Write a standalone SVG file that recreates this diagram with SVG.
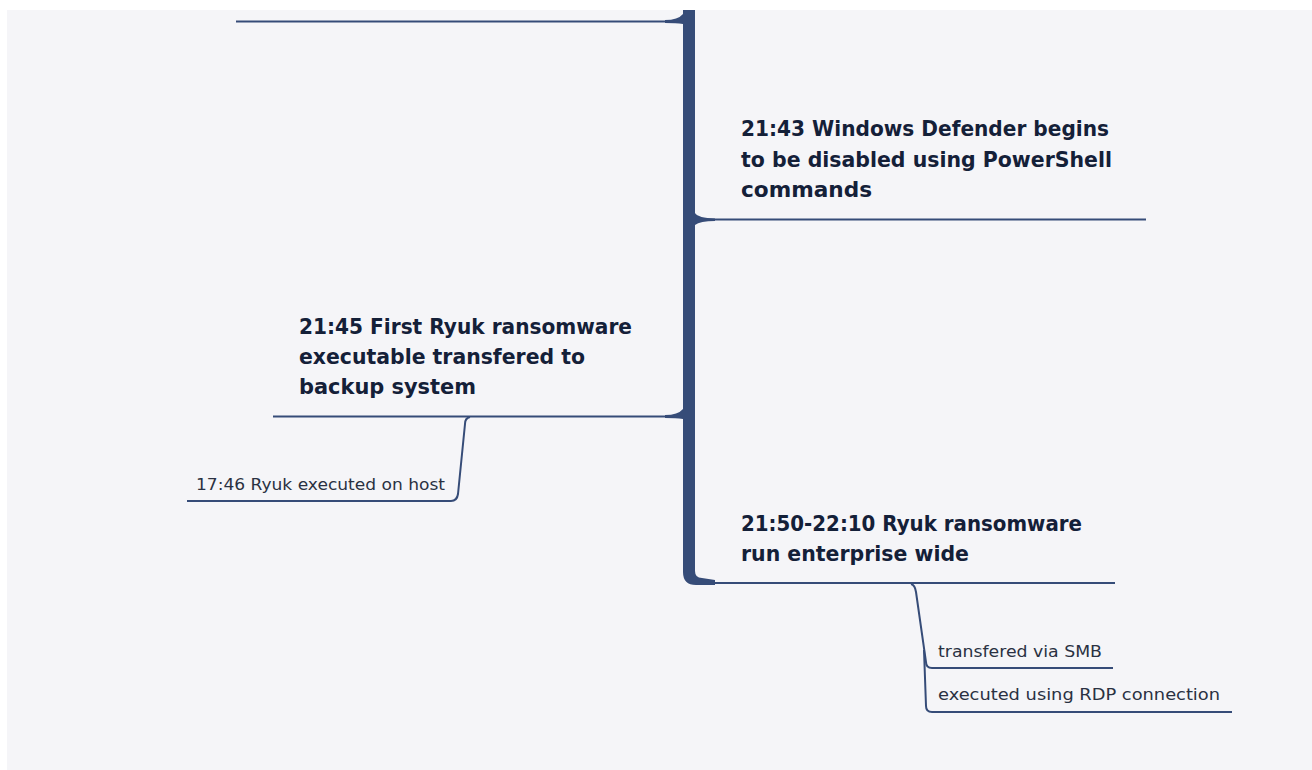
<svg xmlns="http://www.w3.org/2000/svg" width="1312" height="770" viewBox="0 0 1312 770">
<style>
.ln{fill:none;stroke:#364c78;stroke-width:2;stroke-linecap:butt}
.tr{fill:#364c78}
.main{font-family:"DejaVu Sans","Open Sans",sans-serif;font-weight:700;font-size:21px;fill:#142038}
.sub{font-family:"DejaVu Sans","Open Sans",sans-serif;font-weight:400;font-size:16px;fill:#2a3142}
</style>
<rect x="0" y="0" width="1312" height="770" fill="#ffffff"/>
<rect x="7" y="10" width="1305" height="760" fill="#f5f5f8"/>
<g id="connectors">
<path class="tr" d="M683 10 H695 V571 Q695 578 702 578 L715 580 V585 H696 Q683 585 683 572 Z"/>
<path class="ln" d="M236 21.5 H672"/>
<path class="tr" d="M665 20 Q678 20 683 14 V24 Q676 23 665 23 Z"/>
<path class="ln" d="M700 219.5 H1146"/>
<path class="tr" d="M695 213 Q698 218 715 218.5 V221 Q700 221 695 225 Z"/>
<path class="ln" d="M273 416.5 H675"/>
<path class="tr" d="M665 415 Q678 415 683 409 V419 Q676 418 665 418 Z"/>
<path class="ln" d="M715 583 H1115"/>
<path class="ln" d="M470 417 Q465 418 465 424 L458 494 Q457 501 451 501 H187"/>
<path class="ln" d="M911 584 Q915 585 916 592 L926 662 Q926 668 932 668 H1113"/>
<path class="ln" d="M924 650 L926 706 Q926 712 932 712 H1232"/>
</g>
<g id="node-2143">
<text class="main" x="741" y="136" textLength="368" lengthAdjust="spacingAndGlyphs">21:43 Windows Defender begins</text>
<text class="main" x="741" y="167" textLength="371" lengthAdjust="spacingAndGlyphs">to be disabled using PowerShell</text>
<text class="main" x="741" y="197" textLength="131" lengthAdjust="spacingAndGlyphs">commands</text>
</g>
<g id="node-2145">
<text class="main" x="299" y="334" textLength="333" lengthAdjust="spacingAndGlyphs">21:45 First Ryuk ransomware</text>
<text class="main" x="299" y="364" textLength="286" lengthAdjust="spacingAndGlyphs">executable transfered to</text>
<text class="main" x="299" y="394" textLength="177" lengthAdjust="spacingAndGlyphs">backup system</text>
</g>
<g id="node-1746">
<text class="sub" x="196" y="490" textLength="249" lengthAdjust="spacingAndGlyphs">17:46 Ryuk executed on host</text>
</g>
<g id="node-2150">
<text class="main" x="741" y="531" textLength="341" lengthAdjust="spacingAndGlyphs">21:50-22:10 Ryuk ransomware</text>
<text class="main" x="741" y="561" textLength="228" lengthAdjust="spacingAndGlyphs">run enterprise wide</text>
</g>
<g id="node-smb">
<text class="sub" x="938" y="657" textLength="164" lengthAdjust="spacingAndGlyphs">transfered via SMB</text>
</g>
<g id="node-rdp">
<text class="sub" x="938" y="700" textLength="282" lengthAdjust="spacingAndGlyphs">executed using RDP connection</text>
</g>
</svg>
